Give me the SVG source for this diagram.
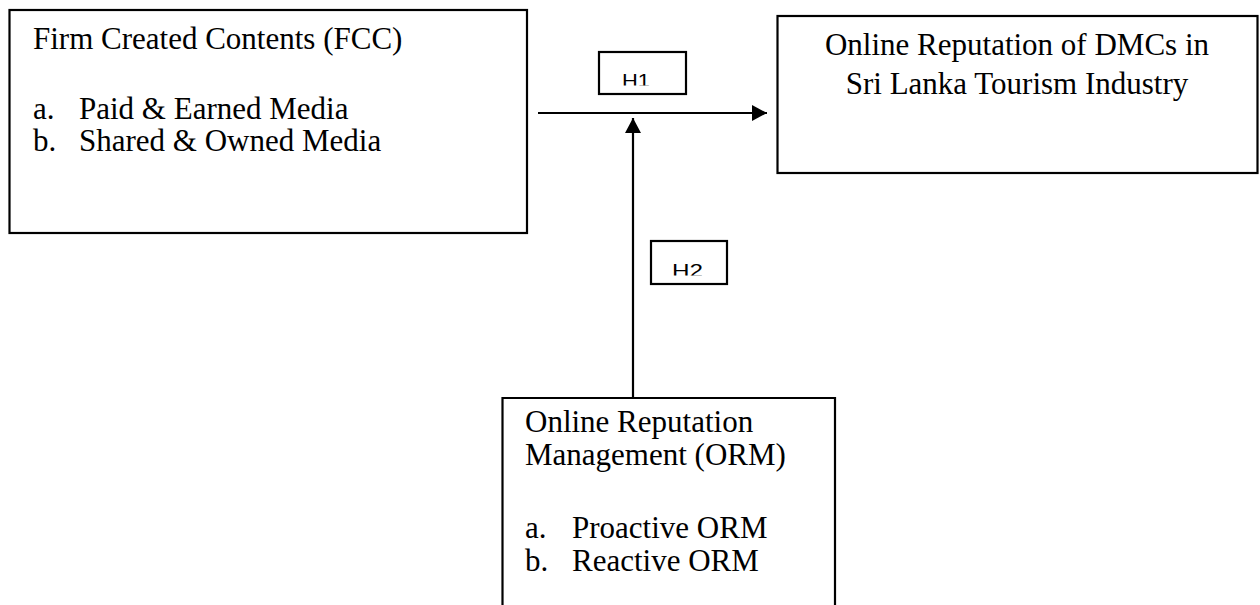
<svg xmlns="http://www.w3.org/2000/svg" width="1260" height="605" viewBox="0 0 1260 605">
<style>
.box{fill:#fff;stroke:#000;stroke-width:2.2}
.t{font-family:"Liberation Serif","Times New Roman",serif;font-size:31px;fill:#000}
.h{font-family:"Liberation Sans",Arial,sans-serif;font-size:19px;fill:#000}
.ln{stroke:#000;stroke-width:2.2;fill:none}
</style>
<defs>
<marker id="ah" markerUnits="userSpaceOnUse" markerWidth="16" markerHeight="16" refX="15" refY="8" orient="auto">
<path d="M0,0 L15,8 L0,16 Z" fill="#000"/>
</marker>
<clipPath id="c1"><rect x="600" y="53" width="85" height="32.5"/></clipPath>
<clipPath id="c2"><rect x="652" y="242" width="74" height="33.5"/></clipPath>
</defs>
<g id="fcc">
<rect class="box" x="9.5" y="10" width="517.5" height="223"/>
<text class="t" x="33" y="49">Firm Created Contents (FCC)</text>
<text class="t" x="33" y="119">a.</text>
<text class="t" x="79" y="119">Paid &amp; Earned Media</text>
<text class="t" x="33" y="151">b.</text>
<text class="t" x="79" y="151">Shared &amp; Owned Media</text>
</g>
<g id="orep">
<rect class="box" x="777.5" y="16" width="480" height="157"/>
<text class="t" x="1017" y="55" text-anchor="middle">Online Reputation of DMCs in</text>
<text class="t" x="1017" y="94" text-anchor="middle">Sri Lanka Tourism Industry</text>
</g>
<g id="orm">
<path class="box" d="M502.5,610 L502.5,398 L835,398 L835,610"/>
<text class="t" x="525" y="432">Online Reputation</text>
<text class="t" x="525" y="465">Management (ORM)</text>
<text class="t" x="525" y="538">a.</text>
<text class="t" x="572" y="538">Proactive ORM</text>
<text class="t" x="525" y="571">b.</text>
<text class="t" x="572" y="571">Reactive ORM</text>
</g>
<g id="h1">
<rect class="box" x="599" y="52" width="87" height="42"/>
<text class="h" x="622" y="87" textLength="28" lengthAdjust="spacingAndGlyphs" clip-path="url(#c1)">H1</text>
</g>
<g id="h2">
<rect class="box" x="651" y="241" width="76" height="43"/>
<text class="h" x="672" y="277" textLength="31" lengthAdjust="spacingAndGlyphs" clip-path="url(#c2)">H2</text>
</g>
<g id="connectors">
<line class="ln" x1="538" y1="113" x2="767" y2="113" marker-end="url(#ah)"/>
<line class="ln" x1="633" y1="398" x2="633" y2="118" marker-end="url(#ah)"/>
</g>
</svg>
